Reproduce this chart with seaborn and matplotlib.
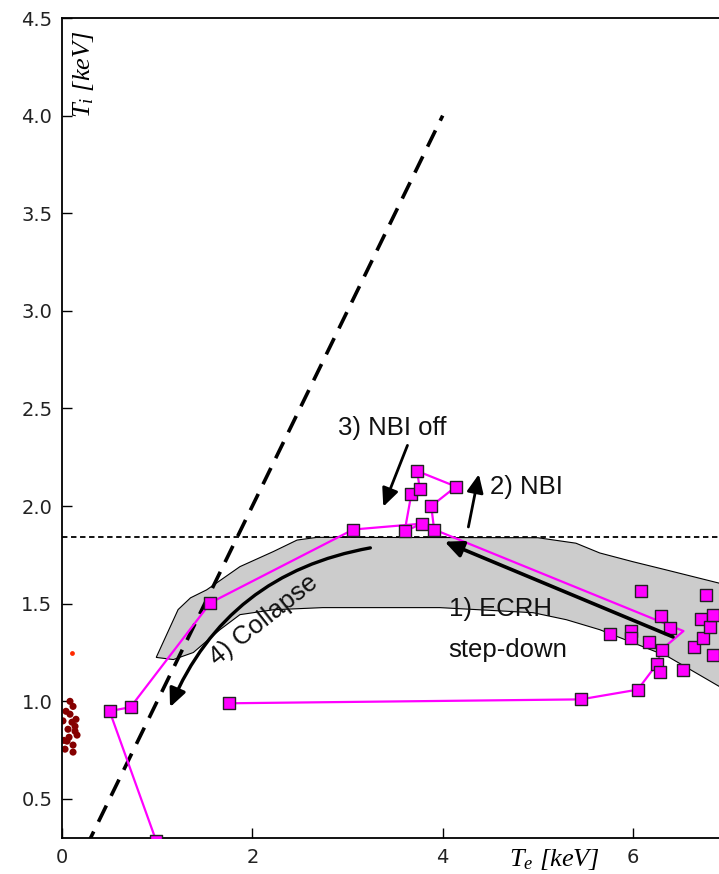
import matplotlib
matplotlib.use("Agg")
import matplotlib.pyplot as plt
import seaborn as sns
import pandas as pd

# ---------------- data ----------------
# trajectory of the discharge (line through the points, in time order)
path_te = [1.75, 5.45, 6.05, 6.25, 6.30, 6.53, 3.91, 3.88, 4.14, 3.73, 3.76, 3.67,
           3.60, 3.78, 3.06, 1.56, 0.72, 0.50, 0.99]
path_ti = [0.99, 1.01, 1.06, 1.19, 1.265, 1.36, 1.88, 2.00, 2.10, 2.18, 2.09, 2.06,
           1.87, 1.91, 1.88, 1.505, 0.97, 0.95, 0.285]

# square markers (measured time slices)
mark_te = [0.50, 0.72, 0.99, 1.56, 1.75, 3.06, 3.60, 3.67, 3.73, 3.76, 3.78, 3.88,
           3.91, 4.14, 5.45, 6.05, 6.25, 6.30, 5.76, 5.98, 5.98, 6.08, 6.17, 6.28,
           6.29, 6.39, 6.52, 6.64, 6.71, 6.74, 6.77, 6.81, 6.84, 6.84]
mark_ti = [0.95, 0.97, 0.285, 1.505, 0.99, 1.88, 1.87, 2.06, 2.18, 2.09, 1.91, 2.00,
           1.88, 2.10, 1.01, 1.06, 1.19, 1.265, 1.347, 1.359, 1.325, 1.565, 1.305, 1.15,
           1.435, 1.376, 1.16, 1.277, 1.42, 1.325, 1.545, 1.38, 1.44, 1.236]

# grey operating band (upper edge left->right, lower edge right->left)
band_up_te = [0.99, 1.22, 1.35, 1.52, 1.87, 2.22, 2.47, 2.68, 5.0, 5.4, 5.65, 6.0, 6.35, 6.9, 7.1]
band_up_ti = [1.225, 1.47, 1.53, 1.571, 1.69, 1.767, 1.826, 1.84, 1.838, 1.81, 1.76, 1.715, 1.673, 1.606, 1.585]
band_lo_te = [7.1, 6.9, 6.36, 6.0, 5.65, 5.30, 4.95, 3.97, 2.74, 2.22, 1.87, 1.66, 1.38, 1.17, 0.99]
band_lo_ti = [1.02, 1.078, 1.231, 1.30, 1.367, 1.418, 1.454, 1.48, 1.48, 1.469, 1.444, 1.367, 1.25, 1.214, 1.225]

# reference lines
diag_te = [0.25, 4.0]
diag_ti = [0.25, 4.0]
limit_ti = 1.84

# dark red data points near Te = 0
red_te = [0.084, 0.116, 0.084, 0.147, 0.105, 0.063, 0.137, 0.158, 0.053, 0.116,
          0.032, 0.116, 0.042, 0.137, 0.074, 0.01, 0.02]
red_ti = [1.0, 0.974, 0.934, 0.908, 0.893, 0.857, 0.847, 0.827, 0.796, 0.776,
          0.755, 0.740, 0.949, 0.872, 0.816, 0.90, 0.80]

x_ticks = [0, 2, 4, 6]
y_ticks = [0.5, 1.0, 1.5, 2.0, 2.5, 3.0, 3.5, 4.0, 4.5]

# annotation arrows: (tail, tip)
arrows = {
    "ecrh": ((6.42, 1.33), (4.02, 1.818)),
    "nbi": ((4.27, 1.893), (4.38, 2.163)),
    "nbioff": ((3.63, 2.311), (3.376, 1.997)),
    "collapse": ((3.24, 1.786), (1.135, 0.97)),
}

# ---------------- style ----------------
sns.set_style("ticks")
plt.rcParams["font.family"] = ["DejaVu Sans"]
plt.rcParams["mathtext.fontset"] = "custom"
plt.rcParams["mathtext.it"] = "Liberation Serif:italic"
plt.rcParams["mathtext.rm"] = "Liberation Serif"

fig = plt.figure(figsize=(7.19, 8.74), dpi=100)
ax = fig.add_axes([62 / 719, 36 / 874, 7 * 95.17 / 719, 820 / 874])

# grey band
band_x = band_up_te + band_lo_te
band_y = band_up_ti + band_lo_ti
ax.fill(band_x, band_y, facecolor="#cccccc", edgecolor="black", lw=0.8, zorder=1)

# dark red points
sns.scatterplot(x=red_te, y=red_ti, ax=ax, color="#850000", s=26, edgecolor="none",
                zorder=2, legend=False)
sns.scatterplot(x=[0.11], y=[1.245], ax=ax, color="#ff2a00", s=12, edgecolor="none",
                zorder=2, legend=False)

# reference lines
ax.axhline(limit_ti, color="black", lw=1.3, ls=(0, (3, 2)), zorder=3)
sns.lineplot(x=diag_te, y=diag_ti, ax=ax, color="black", lw=2.6,
             linestyle=(0, (5, 3)), zorder=3, legend=False)

# trajectory
path_df = pd.DataFrame({"te": path_te, "ti": path_ti})
sns.lineplot(data=path_df, x="te", y="ti", sort=False, estimator=None, ax=ax,
             color="#ff00ff", lw=1.6, zorder=4, legend=False)
sns.scatterplot(x=mark_te, y=mark_ti, ax=ax, marker="s", s=78, color="#ff00ff",
                edgecolor="#222222", linewidth=1.0, zorder=5, legend=False)

# arrows
def arrow(key, lw, rad=0.0, hl=0.55, hw=0.25):
    tail, tip = arrows[key]
    ax.annotate("", xy=tip, xytext=tail,
                arrowprops=dict(arrowstyle=f"-|>,head_length={hl},head_width={hw}",
                                lw=lw, color="black", shrinkA=0, shrinkB=0,
                                mutation_scale=20,
                                connectionstyle=f"arc3,rad={rad}"),
                zorder=6)

arrow("ecrh", 2.6)
arrow("nbi", 2.0)
arrow("nbioff", 2.0)
arrow("collapse", 2.4, rad=0.27)

# texts
tfont = dict(family="Liberation Sans", fontsize=18.5, color="#111111")
ax.text(2.90, 2.362, "3) NBI off", ha="left", va="baseline", **tfont)
ax.text(4.50, 2.061, "2) NBI", ha="left", va="baseline", **tfont)
ax.text(4.07, 1.435, "1) ECRH", ha="left", va="baseline", **tfont)
ax.text(4.06, 1.228, "step-down", ha="left", va="baseline", **tfont)
ax.text(1.625, 1.18, "4) Collapse", ha="left", va="baseline", rotation=38.3,
        rotation_mode="anchor", **tfont)

# axis labels
lfont = dict(family="Liberation Serif", style="italic", fontsize=19, color="black")
ax.text(0.23, 4.44, r"$T_i$ [keV]", rotation=90, ha="center", va="top", **lfont)
ax.set_xlabel(r"$T_e$ [keV]", va="top", **lfont)
ax.xaxis.set_label_coords((554 - 62) / (7 * 95.17), -0.011)
ax.set_ylabel("")

# axes
ax.set_xlim(0, 7)
ax.set_ylim(0.3, 4.5)
ax.set_xticks(x_ticks)
ax.set_yticks(y_ticks)
ax.set_yticklabels([f"{v:.1f}" for v in y_ticks])
ax.tick_params(direction="in", length=7, width=1.0, labelsize=14, pad=7,
               colors="black", labelcolor="#222222")
for s in ax.spines.values():
    s.set_linewidth(1.3)
    s.set_color("black")
    s.set_visible(True)

fig.savefig("out.png", dpi=100)
